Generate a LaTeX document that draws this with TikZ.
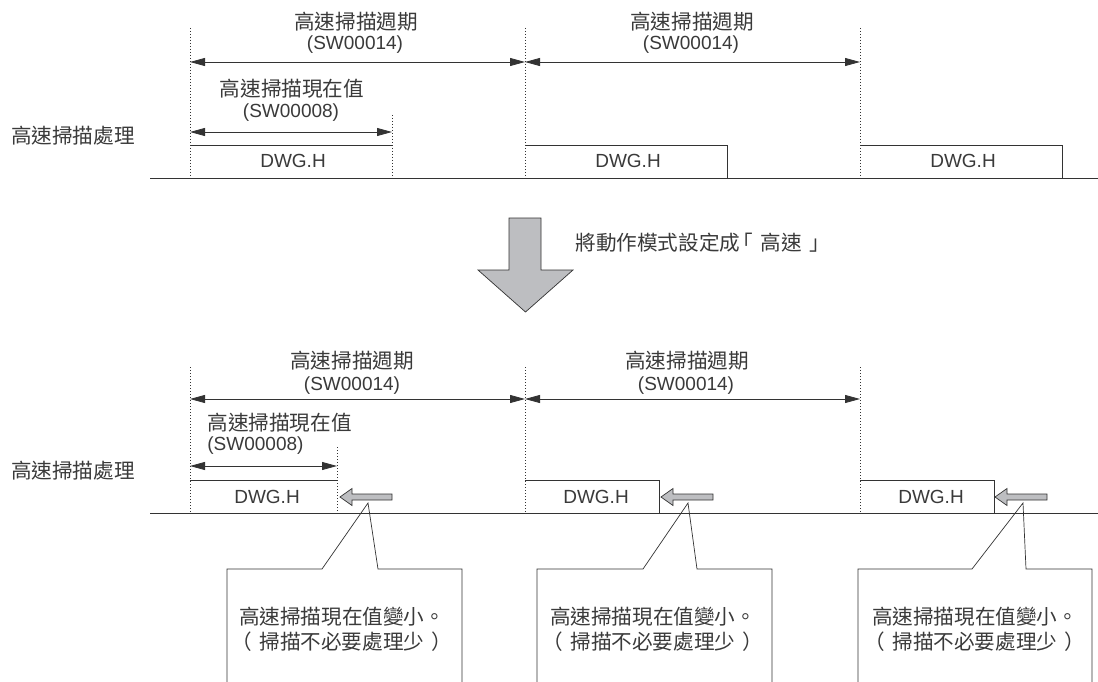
\documentclass[tikz,border=0pt]{standalone}
\usepackage{fontspec}
\setmainfont{Liberation Sans}
\newfontfamily\cjk[Kerning=Off]{Noto Sans CJK TC}
\usetikzlibrary{arrows.meta}
\definecolor{ink}{HTML}{333333}
\definecolor{txt}{HTML}{3A3A3A}
\definecolor{fillg}{HTML}{BDBEC1}
\newcommand\openleft[1]{\hbox to 1em{\kern-0.35em #1\hss}}
\newcommand\closeright[1]{\hbox to 1em{\hss #1\kern-0.35em}}
\begin{document}
\begin{tikzpicture}[x=1pt,y=-1pt,line width=0.8pt,
  lbl/.style={font=\cjk\fontsize{20.6}{24}\selectfont,text=txt,inner sep=0pt},
  lat/.style={font=\fontsize{19}{22}\selectfont,text=txt,inner sep=0pt},
  dimarrow/.style={draw=ink,{Triangle[length=15pt,width=8pt]}-{Triangle[length=15pt,width=8pt]}},
  guide/.style={draw=ink,line width=0.7pt,dash pattern=on 1pt off 2pt},
  edge/.style={draw=ink,line width=0.8pt},
  grayarrow/.style={draw=ink,fill=fillg,line width=0.7pt,line join=miter},
  callout/.style={draw=ink,line width=0.7pt}]
\useasboundingbox (0,0) rectangle (1098,682);
\fill[white] (0,0) rectangle (1098,682);

% ---------------- top section ----------------
\coordinate (tg1a) at (190,28);  \coordinate (tg1b) at (190,178);
\coordinate (tg2a) at (525,28);  \coordinate (tg2b) at (525,178);
\coordinate (tg3a) at (860,28);  \coordinate (tg3b) at (860,178);
\coordinate (tg4a) at (392,115); \coordinate (tg4b) at (392,178);
\draw[guide] (tg1a) -- (tg1b);
\draw[guide] (tg2a) -- (tg2b);
\draw[guide] (tg3a) -- (tg3b);
\draw[guide] (tg4a) -- (tg4b);

\coordinate (ta1) at (190,62); \coordinate (ta2) at (525,62); \coordinate (ta3) at (860,62);
\coordinate (tc1) at (190,132); \coordinate (tc2) at (392,132);
\draw[dimarrow] (ta1) -- (ta2);
\draw[dimarrow] (ta2) -- (ta3);
\draw[dimarrow] (tc1) -- (tc2);

\coordinate (tbl0) at (150,178); \coordinate (tbl1) at (1098,178);
\draw[edge] (tbl0) -- (tbl1);
\coordinate (tb1a) at (190,145); \coordinate (tb1b) at (392,145);
\draw[edge] (tb1a) -- (tb1b);
\coordinate (tb2a) at (525,145); \coordinate (tb2b) at (727,145); \coordinate (tb2c) at (727,178);
\draw[edge] (tb2a) -- (tb2b) -- (tb2c);
\coordinate (tb3a) at (860,145); \coordinate (tb3b) at (1062,145); \coordinate (tb3c) at (1062,178);
\draw[edge] (tb3a) -- (tb3b) -- (tb3c);

\node[lbl] (p1a) at (356,22) {高速掃描週期};
\node[lat] (p1b) at (355,45) {(SW00014)};
\node[lbl] (p2a) at (692,22) {高速掃描週期};
\node[lat] (p2b) at (691,45) {(SW00014)};
\node[lbl] (c1a) at (292,89) {高速掃描現在值};
\node[lat] (c1b) at (291,113) {(SW00008)};
\node[lbl] (proc1) at (73,136) {高速掃描處理};
\node[lat] (d1) at (293,161) {DWG.H};
\node[lat] (d2) at (628,161) {DWG.H};
\node[lat] (d3) at (963,161) {DWG.H};

% ---------------- big arrow ----------------
\draw[grayarrow] (509,218) -- (541,218) -- (541,270) -- (573,270) -- (525.5,312) -- (478,270) -- (509,270) -- cycle;
\node[lbl,anchor=west] (mode) at (575,243) {將動作模式設定成\openleft{「}高速\closeright{」}};

% ---------------- bottom section ----------------
\coordinate (bg1a) at (190,367);  \coordinate (bg1b) at (190,513);
\coordinate (bg2a) at (525,367);  \coordinate (bg2b) at (525,513);
\coordinate (bg3a) at (860,367);  \coordinate (bg3b) at (860,513);
\coordinate (bg4a) at (337,447);  \coordinate (bg4b) at (337,513);
\draw[guide] (bg1a) -- (bg1b);
\draw[guide] (bg2a) -- (bg2b);
\draw[guide] (bg3a) -- (bg3b);
\draw[guide] (bg4a) -- (bg4b);

\coordinate (ba1) at (190,399); \coordinate (ba2) at (525,399); \coordinate (ba3) at (860,399);
\coordinate (bc1) at (190,466); \coordinate (bc2) at (337,466);
\draw[dimarrow] (ba1) -- (ba2);
\draw[dimarrow] (ba2) -- (ba3);
\draw[dimarrow] (bc1) -- (bc2);

\coordinate (bbl0) at (150,513); \coordinate (bbl1) at (1098,513);
\draw[edge] (bbl0) -- (bbl1);
\coordinate (bb1a) at (190,480); \coordinate (bb1b) at (337,480);
\draw[edge] (bb1a) -- (bb1b);
\coordinate (bb2a) at (525,480); \coordinate (bb2b) at (659,480); \coordinate (bb2c) at (659,513);
\draw[edge] (bb2a) -- (bb2b) -- (bb2c);
\coordinate (bb3a) at (860,480); \coordinate (bb3b) at (994,480); \coordinate (bb3c) at (994,513);
\draw[edge] (bb3a) -- (bb3b) -- (bb3c);

\node[lbl] (p3a) at (352,361) {高速掃描週期};
\node[lat] (p3b) at (352,386) {(SW00014)};
\node[lbl] (p4a) at (687,361) {高速掃描週期};
\node[lat] (p4b) at (686,386) {(SW00014)};
\node[lbl,anchor=west] (c2a) at (207,423) {高速掃描現在值};
\node[lat,anchor=west] (c2b) at (207,446) {(SW00008)};
\node[lbl] (proc2) at (73,471) {高速掃描處理};
\node[lat] (d4) at (267,497) {DWG.H};
\node[lat] (d5) at (596,497) {DWG.H};
\node[lat] (d6) at (931,497) {DWG.H};

% small gray arrows
\foreach \n/\tip in {s1/340, s2/661, s3/995} {
  \coordinate (\n) at (\tip,497);
  \draw[grayarrow] (\n) -- ++(12,-8.5) -- ++(0,5.5) -- ++(40,0) -- ++(0,6) -- ++(-40,0) -- ++(0,5.5) -- cycle;
}

% callouts
\draw[callout] (227,682) -- (227,569) -- (322,569) -- (368,503) -- (378,569) -- (462,569) -- (462,682);
\draw[callout] (537,682) -- (537,569) -- (643,569) -- (688,503) -- (697,569) -- (772,569) -- (772,682);
\draw[callout] (858,682) -- (858,569) -- (972,569) -- (1023,503) -- (1026,569) -- (1092,569) -- (1092,682);

\node[lbl] (n1a) at (342,617) {高速掃描現在值變小。};
\node[lbl] (n1b) at (342,642) {\openleft{（}掃描不必要處理少\closeright{）}};
\node[lbl] (n2a) at (653,617) {高速掃描現在值變小。};
\node[lbl] (n2b) at (653,642) {\openleft{（}掃描不必要處理少\closeright{）}};
\node[lbl] (n3a) at (975,617) {高速掃描現在值變小。};
\node[lbl] (n3b) at (975,642) {\openleft{（}掃描不必要處理少\closeright{）}};
\end{tikzpicture}
\end{document}
